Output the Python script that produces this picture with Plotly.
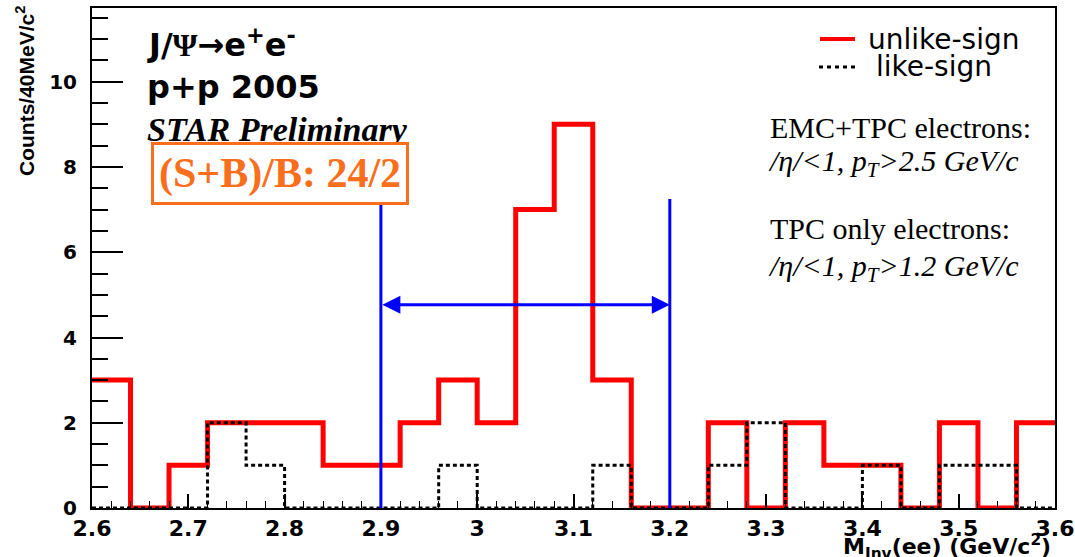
import plotly.graph_objects as go

# Invariant-mass histogram, 40 MeV/c^2 bins from 2.6 to 3.6 GeV/c^2
mass_edges = [2.60, 2.64, 2.68, 2.72, 2.76, 2.80, 2.84, 2.88, 2.92, 2.96,
              3.00, 3.04, 3.08, 3.12, 3.16, 3.20, 3.24, 3.28, 3.32, 3.36,
              3.40, 3.44, 3.48, 3.52, 3.56, 3.60]
unlike_sign = [3, 0, 1, 2, 2, 2, 1, 1, 2, 3, 2, 7, 9, 3, 0, 0, 2, 0, 2, 1, 1, 0, 2, 0, 2]
like_sign = [0, 0, 0, 2, 1, 0, 0, 0, 0, 1, 0, 0, 0, 1, 0, 0, 1, 2, 0, 0, 1, 0, 1, 1, 0]

x_tick_vals = [2.6, 2.7, 2.8, 2.9, 3.0, 3.1, 3.2, 3.3, 3.4, 3.5, 3.6]
x_tick_text = ["2.6", "2.7", "2.8", "2.9", "3", "3.1", "3.2", "3.3", "3.4", "3.5", "3.6"]
y_tick_vals = [0, 2, 4, 6, 8, 10]
y_tick_text = ["0", "2", "4", "6", "8", "10"]

# J/psi mass window used for the signal count
mass_window = [2.9, 3.2]
window_line_top = 7.25
window_arrow_y = 4.77

SANS = "DejaVu Sans"
ARIAL = "Liberation Sans"
SERIF = "Liberation Serif"
ORANGE = "#fa6e1c"

# plot-area pixel frame, used to place the free text
L, R, T, B = 92, 1055, 8, 508


def px_x(p):
    return (p - L) / (R - L)


def px_y(p):
    return (B - p) / (B - T)


def step_y(counts):
    return list(counts) + [counts[-1]]


fig = go.Figure()
fig.add_trace(go.Scatter(
    x=mass_edges, y=step_y(unlike_sign), mode="lines", line_shape="hv",
    line=dict(color="#ff0000", width=5), name="unlike-sign", showlegend=False,
))
fig.add_trace(go.Scatter(
    x=mass_edges, y=step_y(like_sign), mode="lines", line_shape="hv",
    line=dict(color="#000000", width=3, dash="4px,3px"), name="like-sign",
    showlegend=False,
))

shapes = []
for xm in mass_window:
    shapes.append(dict(type="line", xref="x", yref="y", x0=xm, x1=xm,
                       y0=0, y1=window_line_top,
                       line=dict(color="#0000ff", width=3)))

# legend samples
shapes.append(dict(type="line", xref="paper", yref="paper",
                   x0=px_x(820), x1=px_x(855), y0=px_y(39), y1=px_y(39),
                   line=dict(color="#ff0000", width=4)))
shapes.append(dict(type="line", xref="paper", yref="paper",
                   x0=px_x(819), x1=px_x(856), y0=px_y(67), y1=px_y(67),
                   line=dict(color="#000000", width=3, dash="4px,4px")))

annotations = [
    # double-headed arrow spanning the mass window
    dict(x=mass_window[1], y=window_arrow_y, ax=mass_window[0], ay=window_arrow_y,
         xref="x", yref="y", axref="x", ayref="y", text="", showarrow=True,
         arrowside="end+start", arrowhead=2, arrowsize=1.2, arrowwidth=3,
         arrowcolor="#0000ff", standoff=0, startstandoff=0),
    # legend text
    dict(x=px_x(866), y=px_y(39), xref="paper", yref="paper", xanchor="left",
         yanchor="middle", showarrow=False, text="unlike-sign",
         font=dict(family=SANS, size=28, color="#000000")),
    dict(x=px_x(874), y=px_y(66), xref="paper", yref="paper", xanchor="left",
         yanchor="middle", showarrow=False, text="like-sign",
         font=dict(family=SANS, size=28, color="#000000")),
    # top-left labels
    dict(x=px_x(145), y=px_y(43), xref="paper", yref="paper", xanchor="left",
         yanchor="middle", showarrow=False,
         text="J/<span style='font-family:Liberation Serif'>Ψ</span>→e<sup>+</sup>e<sup>-</sup>",
         font=dict(family=SANS, size=32, color="#000000", weight="bold")),
    dict(x=px_x(145), y=px_y(87), xref="paper", yref="paper", xanchor="left",
         yanchor="middle", showarrow=False, text="p+p 2005",
         font=dict(family=SANS, size=32, color="#000000", weight="bold")),
    dict(x=px_x(145), y=px_y(129), xref="paper", yref="paper", xanchor="left",
         yanchor="middle", showarrow=False, text="<i>STAR Preliminary</i>",
         font=dict(family=SERIF, size=34, color="#000000", weight="bold")),
    dict(x=px_x(279.5), y=px_y(174), xref="paper", yref="paper", xanchor="center",
         yanchor="middle", showarrow=False, text="(S+B)/B: 24/2",
         font=dict(family=SERIF, size=42, color=ORANGE, weight="bold"),
         bordercolor=ORANGE, borderwidth=3, borderpad=5, bgcolor="#ffffff"),
    # selection cuts
    dict(x=px_x(768), y=px_y(127), xref="paper", yref="paper", xanchor="left",
         yanchor="middle", showarrow=False, text="EMC+TPC electrons:",
         font=dict(family=SERIF, size=30, color="#000000")),
    dict(x=px_x(766), y=px_y(163), xref="paper", yref="paper", xanchor="left",
         yanchor="middle", showarrow=False,
         text="<i>/η/&lt;1, p<sub>T</sub>&gt;2.5 GeV/c</i>",
         font=dict(family=SERIF, size=30, color="#000000")),
    dict(x=px_x(768), y=px_y(229), xref="paper", yref="paper", xanchor="left",
         yanchor="middle", showarrow=False, text="TPC only electrons:",
         font=dict(family=SERIF, size=30, color="#000000")),
    dict(x=px_x(766), y=px_y(268), xref="paper", yref="paper", xanchor="left",
         yanchor="middle", showarrow=False,
         text="<i>/η/&lt;1, p<sub>T</sub>&gt;1.2 GeV/c</i>",
         font=dict(family=SERIF, size=30, color="#000000")),
    # axis titles
    dict(x=px_x(1053), y=px_y(547), xref="paper", yref="paper", xanchor="right",
         yanchor="middle", showarrow=False,
         text="M<sub>Inv</sub>(ee) (GeV/c<sup>2</sup>)",
         font=dict(family=SANS, size=22, color="#000000", weight="bold")),
    dict(x=px_x(25), y=px_y(4), xref="paper", yref="paper", xanchor="center",
         yanchor="top", showarrow=False, textangle=-90,
         text="Counts/40MeV/c<sup>2</sup>",
         font=dict(family=ARIAL, size=21, color="#000000", weight="bold")),
]

fig.update_layout(
    width=1075, height=557,
    margin=dict(l=L, r=1075 - R, t=T, b=557 - B, autoexpand=False),
    paper_bgcolor="#ffffff", plot_bgcolor="#ffffff",
    showlegend=False,
    shapes=shapes, annotations=annotations,
    xaxis=dict(
        range=[2.6, 3.6000001], tickmode="array", tickvals=x_tick_vals,
        ticktext=x_tick_text, automargin=False,
        ticks="inside", ticklen=14, tickwidth=1.5, tickcolor="#000000",
        minor=dict(dtick=0.02, ticklen=7, tickwidth=1.2, ticks="inside", tickcolor="#000000"),
        showgrid=False, zeroline=False, showline=True, linecolor="#000000",
        linewidth=2, mirror=True,
        tickfont=dict(family=SANS, size=22, color="#000000", weight="bold"),
    ),
    yaxis=dict(
        range=[0, 11.73], tickmode="array", tickvals=y_tick_vals, ticktext=y_tick_text,
        automargin=False,
        ticks="inside", ticklen=31, tickwidth=1.5, tickcolor="#000000",
        minor=dict(dtick=0.5, ticklen=16, tickwidth=1.5, ticks="inside", tickcolor="#000000"),
        showgrid=False, zeroline=False, showline=True, linecolor="#000000",
        linewidth=2, mirror=True, ticklabelstandoff=9,
        tickfont=dict(family=SANS, size=20, color="#000000", weight="bold"),
    ),
)

fig.write_html("out.html")
